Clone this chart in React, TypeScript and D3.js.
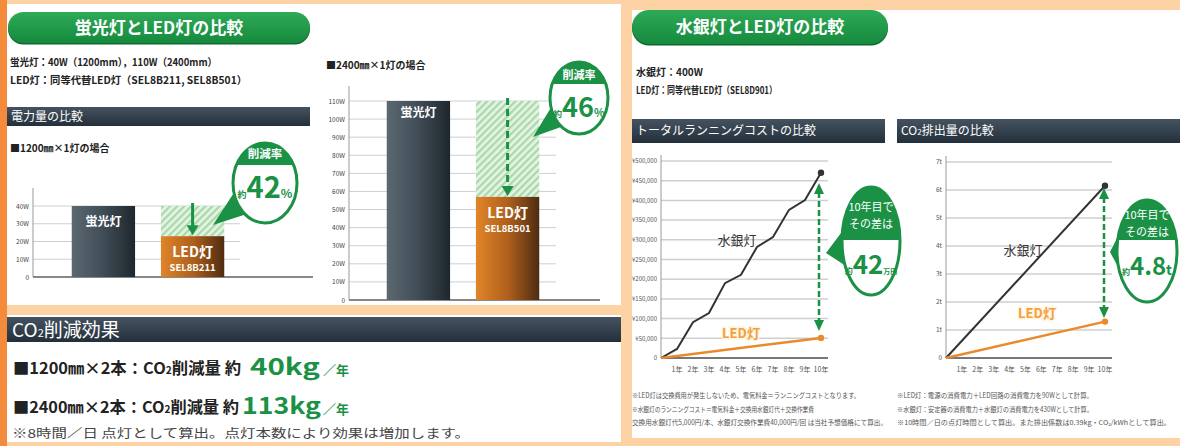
import React from 'react';
import * as d3 from 'd3';

// ---------- data ----------
const lampCats = ['蛍光灯', 'LED灯'];
const ledModels = ['SEL8B211', 'SEL8B501'];
const watt1200 = [40, 23];
const watt2400 = [110, 57];
const wattTicks1200 = [0, 10, 20, 30, 40];
const wattTicks2400 = [0, 10, 20, 30, 40, 50, 60, 70, 80, 90, 100, 110];
const reductionRates = ['42', '46'];

const years = [0, 1, 2, 3, 4, 5, 6, 7, 8, 9, 10];
const yearTicks = [1, 2, 3, 4, 5, 6, 7, 8, 9, 10];
const mercuryCost = [0, 23000, 91000, 114000, 190000, 211000, 282000, 307000, 376000, 401000, 470000];
const ledCostYears = [0, 10];
const ledCost = [0, 51000];
const costTicks = [0, 50000, 100000, 150000, 200000, 250000, 300000, 350000, 400000, 450000, 500000];
const costDiff = '42';

const co2Years = [0, 10];
const mercuryCO2 = [0, 6.15];
const ledCO2 = [0, 1.3];
const co2Ticks = [0, 1, 2, 3, 4, 5, 6, 7];
const co2Diff = '4.8';

const co2SaveRows = ['1200', '2400'];
const co2SaveValues = ['40kg', '113kg'];

const costNotes = [
  '※LED灯は交換費用が発生しないため、電気料金＝ランニングコストとなります。',
  '※水銀灯のランニングコスト＝電気料金＋交換用水銀灯代＋交換作業費',
  '交換用水銀灯代5,000円/本、水銀灯交換作業費40,000円/回 は当社予想価格にて算出。',
];
const co2Notes = [
  '※LED灯：電源の消費電力＋LED回路の消費電力を90Wとして計算。',
  '※水銀灯：安定器の消費電力＋水銀灯の消費電力を430Wとして計算。',
  '※10時間／日の点灯時間として算出。また排出係数は0.39kg・CO₂/kWhとして算出。',
];

// ---------- style ----------
const JP = "'Noto Sans CJK JP', 'Noto Sans', sans-serif";
const GREEN = '#1b9145';
const ORANGE = '#ea8a2c';

function Bubble(props: any) {
  const { id, cx, cy, rx, ry, tipX, tipY, splitY, children } = props;
  const a = Math.atan2((tipY - cy) / ry, (tipX - cx) / rx);
  const p1 = [cx + rx * Math.cos(a - 0.33), cy + ry * Math.sin(a - 0.33)];
  const p2 = [cx + rx * Math.cos(a + 0.33), cy + ry * Math.sin(a + 0.33)];
  return (
    <g>
      <clipPath id={id}>
        <ellipse cx={cx} cy={cy} rx={rx} ry={ry} />
      </clipPath>
      <polygon points={`${p1[0]},${p1[1]} ${tipX},${tipY} ${p2[0]},${p2[1]}`} fill={GREEN} />
      <ellipse cx={cx} cy={cy} rx={rx} ry={ry} fill="#fff" />
      <rect x={cx - rx} y={cy - ry} width={rx * 2} height={splitY - (cy - ry)} fill={GREEN} clipPath={`url(#${id})`} />
      <ellipse cx={cx} cy={cy} rx={rx} ry={ry} fill="none" stroke={GREEN} strokeWidth={3} />
      {children}
    </g>
  );
}

function Banner({ x, y, w, h, text }: any) {
  return (
    <g>
      <rect x={x} y={y + 1.5} width={w} height={h} rx={h / 2} fill="#0c6a2c" />
      <rect x={x} y={y} width={w} height={h} rx={h / 2} fill="url(#gBanner)" />
      <text x={x + w / 2} y={y + h / 2 + 6} textAnchor="middle" fill="#fff" fontSize={17} fontWeight={700} fontFamily={JP}>{text}</text>
    </g>
  );
}

function DarkBar({ x, y, w, h, children, fs = 12 }: any) {
  return (
    <g>
      <rect x={x} y={y} width={w} height={h} fill="url(#gDark)" />
      <text x={x + 4} y={y + h / 2 + fs * 0.36} fill="#fff" fontSize={fs} fontFamily={JP}>{children}</text>
    </g>
  );
}

function BarChart(props: any) {
  const { values, ticks, y0, yVal, axisX, axisTop, gridRight, baseRight, range, model, dashed, fluorLabelDy } = props;
  const y = d3.scaleLinear().domain([0, ticks[ticks.length - 1]]).range([y0, yVal]);
  const x = d3.scaleBand<string>().domain(lampCats).range(range).paddingInner(0.29).paddingOuter(0.3);
  const bw = x.bandwidth();
  const fx = x(lampCats[0])!;
  const lx = x(lampCats[1])!;
  const cxL = lx + bw / 2;
  return (
    <g fontFamily={JP}>
      {ticks.map((t: number) => (
        <g key={t}>
          {t > 0 && <line x1={axisX} x2={gridRight} y1={y(t)} y2={y(t)} stroke="#cfcfcf" strokeWidth={1} />}
          <text x={axisX - 4} y={y(t) + 2.5} textAnchor="end" fontSize={6.5} fill="#444">{t === 0 ? '0' : `${t}W`}</text>
        </g>
      ))}
      <line x1={axisX} x2={axisX} y1={axisTop} y2={y0} stroke="#999" strokeWidth={1} />
      <line x1={axisX} x2={baseRight} y1={y0} y2={y0} stroke="#888" strokeWidth={2} />
      <rect x={lx} y={y(values[0])} width={bw} height={y(values[1]) - y(values[0])} fill="url(#hatch)" />
      <rect x={fx} y={y(values[0])} width={bw} height={y0 - y(values[0])} fill="url(#gFluor)" />
      <rect x={lx} y={y(values[1])} width={bw} height={y0 - y(values[1])} fill="url(#gLed)" />
      <text x={fx + bw / 2} y={y(values[0]) + fluorLabelDy} textAnchor="middle" fill="#fff" fontSize={12} fontWeight={700}>{lampCats[0]}</text>
      <text x={cxL} y={y(values[1]) + 21} textAnchor="middle" fill="#fff" fontSize={14} fontWeight={700}>{lampCats[1]}</text>
      <text x={cxL} y={y(values[1]) + 35} textAnchor="middle" fill="#fff" fontSize={9.5} fontWeight={700}>{model}</text>
      <line x1={cxL} x2={cxL} y1={y(values[0]) - 3} y2={y(values[1]) - 9} stroke={GREEN} strokeWidth={3} strokeDasharray={dashed ? '7 4' : undefined} />
      <polygon points={`${cxL - 6},${y(values[1]) - 11} ${cxL + 6},${y(values[1]) - 11} ${cxL},${y(values[1]) - 1}`} fill={GREEN} />
    </g>
  );
}

function LineChart(props: any) {
  const { x0, x1, y0, y1, gridRight, ticks, tickFmt, tickFs, series, labels, arrowX, arrowTop, arrowBottom } = props;
  const x = d3.scaleLinear().domain([0, 10]).range([x0, x1]);
  const y = d3.scaleLinear().domain([0, ticks[ticks.length - 1]]).range([y0, y1]);
  const line = d3.line<[number, number]>().x((d) => x(d[0])).y((d) => y(d[1]));
  return (
    <g fontFamily={JP}>
      {ticks.map((t: number) => (
        <g key={t}>
          {t > 0 && <line x1={x0} x2={gridRight} y1={y(t)} y2={y(t)} stroke="#cfcfcf" strokeWidth={1.5} />}
          <text x={x0 - 4} y={y(t) + 2.2} textAnchor="end" fontSize={tickFs} fill="#555">{tickFmt(t)}</text>
        </g>
      ))}
      <line x1={x0} x2={x0} y1={y1 - 6} y2={y0} stroke="#999" strokeWidth={1} />
      <line x1={x0} x2={gridRight} y1={y0} y2={y0} stroke="#777" strokeWidth={2} />
      {yearTicks.map((t) => (
        <text key={t} x={x(t)} y={y0 + 14} textAnchor="middle" fontSize={7} fill="#555">{`${t}年`}</text>
      ))}
      {series.map((s: any, i: number) => {
        const pts: [number, number][] = s.xs.map((v: number, k: number) => [v, s.ys[k]]);
        const last = pts[pts.length - 1];
        return (
          <g key={i}>
            <path d={line(pts)!} fill="none" stroke={s.color} strokeWidth={s.w} />
            <circle cx={x(last[0])} cy={y(last[1])} r={3.2} fill={s.color} />
          </g>
        );
      })}
      {labels.map((l: any, i: number) => (
        <text key={i} x={l.x} y={l.y} textAnchor="middle" fontSize={13} fill={l.color} fontWeight={l.bold ? 700 : 400}
          stroke={l.halo ? '#fff5e0' : 'none'} strokeWidth={l.halo ? 3 : 0} paintOrder="stroke">{l.text}</text>
      ))}
      <line x1={arrowX} x2={arrowX} y1={arrowTop + 9} y2={arrowBottom - 9} stroke={GREEN} strokeWidth={2.5} strokeDasharray="6 3" />
      <polygon points={`${arrowX - 5},${arrowTop + 11} ${arrowX + 5},${arrowTop + 11} ${arrowX},${arrowTop}`} fill={GREEN} />
      <polygon points={`${arrowX - 5},${arrowBottom - 11} ${arrowX + 5},${arrowBottom - 11} ${arrowX},${arrowBottom}`} fill={GREEN} />
    </g>
  );
}

export default function App() {
  const fmtYen = d3.format(',');
  return (
    <svg width={1180} height={446} viewBox="0 0 1180 446" style={{ position: 'absolute', left: 0, top: 0, display: 'block' }}>
      <defs>
        <linearGradient id="gBanner" x1="0" y1="0" x2="0" y2="1">
          <stop offset="0" stopColor="#2eaa57" />
          <stop offset="1" stopColor="#168a3e" />
        </linearGradient>
        <linearGradient id="gDark" x1="0" y1="0" x2="0" y2="1">
          <stop offset="0" stopColor="#45525f" />
          <stop offset="1" stopColor="#23303c" />
        </linearGradient>
        <linearGradient id="gFluor" x1="0" y1="0" x2="1" y2="0">
          <stop offset="0" stopColor="#5b6870" />
          <stop offset="0.45" stopColor="#43505a" />
          <stop offset="1" stopColor="#1e272d" />
        </linearGradient>
        <linearGradient id="gLed" x1="0" y1="0" x2="1" y2="0">
          <stop offset="0" stopColor="#e08528" />
          <stop offset="0.5" stopColor="#b0601c" />
          <stop offset="1" stopColor="#4e2c12" />
        </linearGradient>
        <pattern id="hatch" patternUnits="userSpaceOnUse" width={5} height={5} patternTransform="rotate(45)">
          <rect width={5} height={5} fill="#e4f3e3" />
          <rect width={2.2} height={5} fill="#a9d9a9" />
        </pattern>
      </defs>

      {/* background */}
      <rect x={0} y={0} width={1180} height={446} fill="#fdd2a4" />
      <rect x={0} y={0} width={7} height={446} fill="#f48a3c" />
      <rect x={7} y={4} width={614} height={301} fill="#fff" />
      <rect x={7} y={315} width={614} height={127} fill="#fff" />
      <rect x={632} y={10} width={548} height={428} fill="#fff" />

      {/* ===== left top ===== */}
      <Banner x={8} y={12} w={302} h={31} text="蛍光灯とLED灯の比較" />
      <text x={10} y={66} fontSize={10.5} fontWeight={700} fill="#222" fontFamily={JP} textLength={207} lengthAdjust="spacingAndGlyphs">蛍光灯：40W（1200mm），110W（2400mm）</text>
      <text x={10} y={84} fontSize={10.5} fontWeight={700} fill="#222" fontFamily={JP} textLength={237} lengthAdjust="spacingAndGlyphs">LED灯：同等代替LED灯（SEL8B211, SEL8B501）</text>
      <DarkBar x={7} y={107} w={303} h={19}>電力量の比較</DarkBar>
      <text x={10} y={152} fontSize={10} fontWeight={700} fill="#222" fontFamily={JP}>■1200㎜×1灯の場合</text>
      <text x={326} y={69} fontSize={10} fontWeight={700} fill="#222" fontFamily={JP}>■2400㎜×1灯の場合</text>

      <BarChart values={watt1200} ticks={wattTicks1200} y0={277} yVal={206} axisX={33} axisTop={188}
        gridRight={240} baseRight={313} range={[45, 251]} model={ledModels[0]} dashed={false} fluorLabelDy={20} />
      <BarChart values={watt2400} ticks={wattTicks2400} y0={300} yVal={101} axisX={349} axisTop={86}
        gridRight={556} baseRight={600} range={[360, 566]} model={ledModels[1]} dashed={true} fluorLabelDy={16} />

      <Bubble id="b1" cx={265} cy={183} rx={32} ry={40} tipX={213} tipY={225} splitY={165}>
        <text x={265} y={158} textAnchor="middle" fill="#fff" fontSize={11.5} fontWeight={700} fontFamily={JP}>削減率</text>
        <text x={265} y={198} textAnchor="middle" fill={GREEN} fontFamily={JP} fontWeight={700}>
          <tspan fontSize={9}>約</tspan>
          <tspan fontSize={29}>{reductionRates[0]}</tspan>
          <tspan fontSize={12}>%</tspan>
        </text>
      </Bubble>
      <Bubble id="b2" cx={579} cy={98} rx={29} ry={36} tipX={533} tipY={137} splitY={84}>
        <text x={579} y={79} textAnchor="middle" fill="#fff" fontSize={11} fontWeight={700} fontFamily={JP}>削減率</text>
        <text x={579} y={117} textAnchor="middle" fill={GREEN} fontFamily={JP} fontWeight={700}>
          <tspan fontSize={8.5}>約</tspan>
          <tspan fontSize={27}>{reductionRates[1]}</tspan>
          <tspan fontSize={11}>%</tspan>
        </text>
      </Bubble>

      {/* ===== left bottom ===== */}
      <rect x={7} y={317} width={614} height={25} fill="url(#gDark)" />
      <text x={12} y={337} fontSize={19} fill="#fff" fontFamily={JP}>CO<tspan fontSize={11}>2</tspan>削減効果</text>
      {co2SaveRows.map((r, i) => (
        <g key={r} fontFamily={JP}>
          <text x={13} y={374 + i * 39} fontSize={16} fontWeight={700} fill="#222" textLength={i === 0 ? 228 : 226} lengthAdjust="spacingAndGlyphs">
            {`■${r}㎜×2本：CO`}<tspan fontSize={10}>2</tspan>{'削減量 約'}
          </text>
          <text x={i === 0 ? 250 : 242} y={375 + i * 39} fontSize={23} fontWeight={700} fill={GREEN} textLength={i === 0 ? 70 : 79} lengthAdjust="spacingAndGlyphs">{co2SaveValues[i]}</text>
          <text x={323} y={375 + i * 39} fontSize={13} fontWeight={700} fill={GREEN}>／年</text>
        </g>
      ))}
      <text x={12} y={438} fontSize={12} fill="#444" fontFamily={JP} textLength={458} lengthAdjust="spacingAndGlyphs">※8時間／日 点灯として算出。点灯本数により効果は増加します。</text>

      {/* ===== right ===== */}
      <Banner x={632} y={10} w={256} h={34} text="水銀灯とLED灯の比較" />
      <text x={636} y={76} fontSize={10} fontWeight={700} fill="#222" fontFamily={JP}>水銀灯：400W</text>
      <text x={636} y={94} fontSize={10} fontWeight={700} fill="#222" fontFamily={JP} textLength={141} lengthAdjust="spacingAndGlyphs">LED灯：同等代替LED灯（SEL8D901）</text>
      <DarkBar x={632} y={119} w={253} h={24}>トータルランニングコストの比較</DarkBar>
      <rect x={897} y={119} width={283} height={24} fill="url(#gDark)" />
      <text x={901} y={135} fontSize={12} fill="#fff" fontFamily={JP}>CO<tspan fontSize={8}>2</tspan>排出量の比較</text>

      <LineChart x0={661} x1={821} y0={358} y1={161} gridRight={828} ticks={costTicks}
        tickFmt={(t: number) => (t === 0 ? '0' : `¥${fmtYen(t)}`)} tickFs={6}
        series={[
          { xs: years, ys: mercuryCost, color: '#333', w: 2 },
          { xs: ledCostYears, ys: ledCost, color: ORANGE, w: 2.5 },
        ]}
        labels={[
          { x: 737, y: 245, text: '水銀灯', color: '#333' },
          { x: 741, y: 338, text: 'LED灯', color: '#f0a040', halo: true, bold: true },
        ]}
        arrowX={819} arrowTop={183} arrowBottom={331} />
      <LineChart x0={946} x1={1105} y0={358} y1={162} gridRight={1112} ticks={co2Ticks}
        tickFmt={(t: number) => (t === 0 ? '0' : `${t}t`)} tickFs={6.5}
        series={[
          { xs: co2Years, ys: mercuryCO2, color: '#333', w: 2 },
          { xs: co2Years, ys: ledCO2, color: ORANGE, w: 2.5 },
        ]}
        labels={[
          { x: 1023, y: 255, text: '水銀灯', color: '#333' },
          { x: 1037, y: 318, text: 'LED灯', color: '#f0a040', halo: true, bold: true },
        ]}
        arrowX={1104} arrowTop={188} arrowBottom={318} />

      <Bubble id="b3" cx={871} cy={241} rx={29} ry={54} tipX={826} tipY={253} splitY={240}>
        <text x={871} y={211} textAnchor="middle" fill="#fff" fontSize={11} fontFamily={JP}>10年目で</text>
        <text x={871} y={228} textAnchor="middle" fill="#fff" fontSize={11} fontFamily={JP}>その差は</text>
        <text x={871} y={274} textAnchor="middle" fill={GREEN} fontFamily={JP} fontWeight={700}>
          <tspan fontSize={8}>約</tspan>
          <tspan fontSize={26}>{costDiff}</tspan>
          <tspan fontSize={7}>万円</tspan>
        </text>
      </Bubble>
      <Bubble id="b4" cx={1147} cy={251} rx={30} ry={51} tipX={1110} tipY={252} splitY={240}>
        <text x={1147} y={219} textAnchor="middle" fill="#fff" fontSize={11} fontFamily={JP}>10年目で</text>
        <text x={1147} y={236} textAnchor="middle" fill="#fff" fontSize={11} fontFamily={JP}>その差は</text>
        <text x={1147} y={275} textAnchor="middle" fill={GREEN} fontFamily={JP} fontWeight={700}>
          <tspan fontSize={8}>約</tspan>
          <tspan fontSize={24}>{co2Diff}</tspan>
          <tspan fontSize={14}>t</tspan>
        </text>
      </Bubble>

      {costNotes.map((n, i) => (
        <text key={i} x={632} y={398 + i * 13.5} fontSize={7} fill="#555" fontFamily={JP}
          textLength={[228, 182, 255][i]} lengthAdjust="spacingAndGlyphs">{n}</text>
      ))}
      {co2Notes.map((n, i) => (
        <text key={i} x={897} y={398 + i * 13.5} fontSize={i === 2 ? 6.6 : 7} fill="#555" fontFamily={JP}
          textLength={[196, 196, 274][i]} lengthAdjust="spacingAndGlyphs">{n}</text>
      ))}
    </svg>
  );
}
